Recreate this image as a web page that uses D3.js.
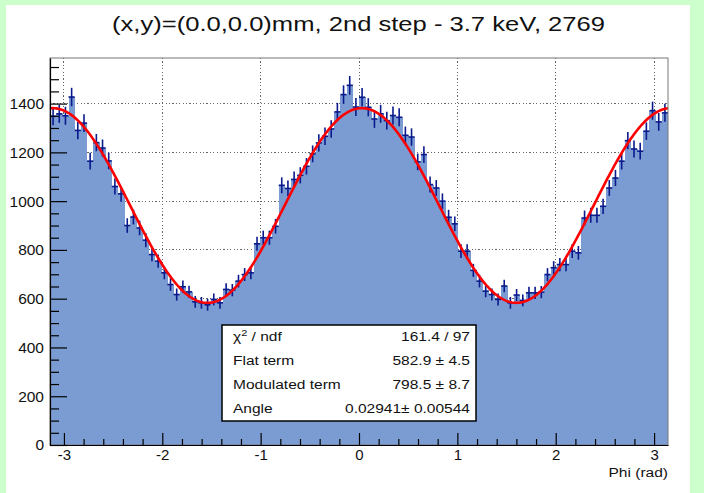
<!DOCTYPE html>
<html>
<head>
<meta charset="utf-8">
<script src="https://cdn.jsdelivr.net/npm/d3@7/dist/d3.min.js"></script>
<style>
  html, body { margin: 0; padding: 0; background: #ccffcc; }
  svg { display: block; font-family: "Liberation Sans", Arial, Helvetica, sans-serif; }
</style>
</head>
<body>
<svg id="chart" width="704" height="493"></svg>
<script>
// Azimuthal (Phi) distribution, 100 bins over [-pi, pi]
const binCounts = [
  1348, 1358, 1350, 1427, 1290, 1320, 1164, 1240, 1218, 1165,
  1060, 1030,  900,  935,  890,  840,  781,  754,  706,  658,
   617,  649,  628,  587,  583,  575,  597,  583,  638,  635,
   672,  699,  706,  825,  850,  850,  897, 1065, 1052, 1089,
  1106, 1143, 1194, 1239, 1266, 1296, 1366, 1437, 1475, 1386,
  1426, 1385, 1337, 1358, 1330, 1351, 1344, 1270, 1263, 1161,
  1191, 1068, 1054, 1000,  934,  907,  795,  795,  716,  672,
   631,  617,  597,  652,  583,  615,  593,  624,  624,  627,
   699,  727,  740,  740,  795,  788,  931,  942,  942,  979,
  1054, 1095, 1164, 1248, 1214, 1205, 1287, 1371, 1325, 1362
];

// Fit parameters: flat + modulated * cos^2(phi - angle)
const fitNames  = ["Flat term", "Modulated term", "Angle"];
const fitValues = [582.9, 798.5, 0.02941];
const fitValueText = ["582.9 \u00b1 4.5", "798.5 \u00b1 8.7", "0.02941\u00b1 0.00544"];
const chi2Text = "161.4 / 97";

const yTicks = [0, 200, 400, 600, 800, 1000, 1200, 1400];
const xTicks = [-3, -2, -1, 0, 1, 2, 3];

const titleText = "(x,y)=(0.0,0.0)mm, 2nd step - 3.7 keV, 2769";
const xTitle = "Phi (rad)";

const svg = d3.select("#chart");

// white pad
svg.append("rect").attr("x", 6).attr("y", 5).attr("width", 684).attr("height", 488)
  .attr("fill", "#ffffff");

const fLeft = 50, fRight = 668, fTop = 58, fBottom = 445;
const x = d3.scaleLinear().domain([-Math.PI, Math.PI]).range([fLeft, fRight]);
const y = d3.scaleLinear().domain([0, 1587]).range([fBottom, fTop]);

const nb = binCounts.length;
const bw = 2 * Math.PI / nb;
const bins = binCounts.map((c, i) => ({
  lo: -Math.PI + i * bw,
  hi: -Math.PI + (i + 1) * bw,
  c: c,
  e: Math.sqrt(c)
}));

// text with a horizontal stretch around its anchor point
function wideText(parent, tx, ty, str, size, sx, anchor) {
  return parent.append("text")
    .attr("transform", `translate(${tx},${ty}) scale(${sx},1)`)
    .attr("text-anchor", anchor || "start")
    .attr("font-size", size).attr("fill", "#111").text(str);
}

// grid
const grid = svg.append("g").attr("stroke", "#666").attr("stroke-width", 1)
  .attr("stroke-dasharray", "1.2,2.2").attr("shape-rendering", "crispEdges");
grid.selectAll("line.gx").data(xTicks).join("line")
  .attr("x1", d => x(d)).attr("x2", d => x(d)).attr("y1", fTop).attr("y2", fBottom);
grid.selectAll("line.gy").data(yTicks.filter(d => d > 0)).join("line")
  .attr("x1", fLeft).attr("x2", fRight).attr("y1", d => y(d)).attr("y2", d => y(d));

// histogram bars
svg.append("g").selectAll("rect").data(bins).join("rect")
  .attr("x", d => x(d.lo))
  .attr("width", d => x(d.hi) - x(d.lo) + 0.4)
  .attr("y", d => y(d.c))
  .attr("height", d => fBottom - y(d.c))
  .attr("fill", "#7b9cd3")
  .attr("shape-rendering", "crispEdges");

// error crosses
const err = svg.append("g").attr("stroke", "#0a1a8c").attr("stroke-width", 1.6);
err.selectAll("line.v").data(bins).join("line")
  .attr("x1", d => x((d.lo + d.hi) / 2)).attr("x2", d => x((d.lo + d.hi) / 2))
  .attr("y1", d => y(d.c - d.e)).attr("y2", d => y(d.c + d.e));
err.selectAll("line.h").data(bins).join("line")
  .attr("x1", d => x(d.lo)).attr("x2", d => x(d.hi))
  .attr("y1", d => y(d.c)).attr("y2", d => y(d.c));

// fit curve
const fitFn = p => fitValues[0] + fitValues[1] * Math.pow(Math.cos(p - fitValues[2]), 2);
const phiSamples = d3.range(0, 401).map(i => -Math.PI + i * 2 * Math.PI / 400);
svg.append("path").datum(phiSamples)
  .attr("fill", "none").attr("stroke", "#ff0000").attr("stroke-width", 2.6)
  .attr("stroke-linejoin", "round")
  .attr("d", d3.line().x(p => x(p)).y(p => y(fitFn(p))));

// frame
svg.append("rect").attr("x", fLeft).attr("y", fTop).attr("width", fRight - fLeft).attr("height", fBottom - fTop)
  .attr("fill", "none").attr("stroke", "#777").attr("stroke-width", 1);

// y axis (ticks pointing inward)
const yAxis = svg.append("g").attr("transform", `translate(${fLeft},0)`)
  .call(d3.axisLeft(y).tickValues(yTicks).tickSizeInner(-17).tickSizeOuter(0).tickPadding(6)
    .tickFormat(d => String(d)));
yAxis.select(".domain").attr("stroke", "#000").attr("stroke-width", 1.2);
yAxis.selectAll(".tick line").attr("stroke", "#000").attr("stroke-width", 1.2);
yAxis.selectAll("text").attr("font-size", 15.5).attr("fill", "#111");
svg.append("g").attr("transform", `translate(${fLeft},0)`)
  .call(d3.axisLeft(y).tickValues(d3.range(0, 1587, 50).filter(v => v % 200 !== 0))
    .tickSizeInner(-9).tickSizeOuter(0).tickFormat(""))
  .call(g => g.select(".domain").remove())
  .selectAll("line").attr("stroke", "#000").attr("stroke-width", 1.2);

// x axis
const xAxis = svg.append("g").attr("transform", `translate(0,${fBottom})`)
  .call(d3.axisBottom(x).tickValues(xTicks).tickSizeInner(-12).tickSizeOuter(0).tickPadding(4)
    .tickFormat(d => String(d)));
xAxis.select(".domain").attr("stroke", "#000").attr("stroke-width", 1.2);
xAxis.selectAll(".tick line").attr("stroke", "#000").attr("stroke-width", 1.2);
xAxis.selectAll("text").attr("font-size", 15).attr("fill", "#111");
svg.append("g").attr("transform", `translate(0,${fBottom})`)
  .call(d3.axisBottom(x).tickValues(d3.range(-15, 16).map(v => v / 5).filter(v => !Number.isInteger(v)))
    .tickSizeInner(-6).tickSizeOuter(0).tickFormat(""))
  .call(g => g.select(".domain").remove())
  .selectAll("line").attr("stroke", "#000").attr("stroke-width", 1.2);

wideText(svg, fRight, 477, xTitle, 13.5, 1.15, "end");

// title
svg.append("text").attr("x", 358.5).attr("y", 31).attr("text-anchor", "middle")
  .attr("font-size", 21).attr("fill", "#111")
  .attr("textLength", 493).attr("lengthAdjust", "spacingAndGlyphs")
  .text(titleText);

// statistics box
const bx = 222, by = 325, bwid = 254, bh = 96;
const box = svg.append("g");
box.append("rect").attr("x", bx).attr("y", by).attr("width", bwid).attr("height", bh)
  .attr("fill", "#fff").attr("stroke", "#000").attr("stroke-width", 1.5);
const rowY = [341, 365, 389, 413];
const chiLabel = wideText(box, bx + 11, rowY[0], "", 13.5, 1.15, "start");
chiLabel.append("tspan").text("\u03c7");
chiLabel.append("tspan").attr("dy", -5).attr("font-size", 9.5).text("2");
chiLabel.append("tspan").attr("dy", 5).text(" / ndf");
wideText(box, bx + bwid - 6, rowY[0], chi2Text, 13.5, 1.15, "end");
fitNames.forEach((n, i) => {
  wideText(box, bx + 11, rowY[i + 1], n, 13.5, 1.15, "start");
  wideText(box, bx + bwid - 6, rowY[i + 1], fitValueText[i], 13.5, 1.15, "end");
});
</script>
</body>
</html>
